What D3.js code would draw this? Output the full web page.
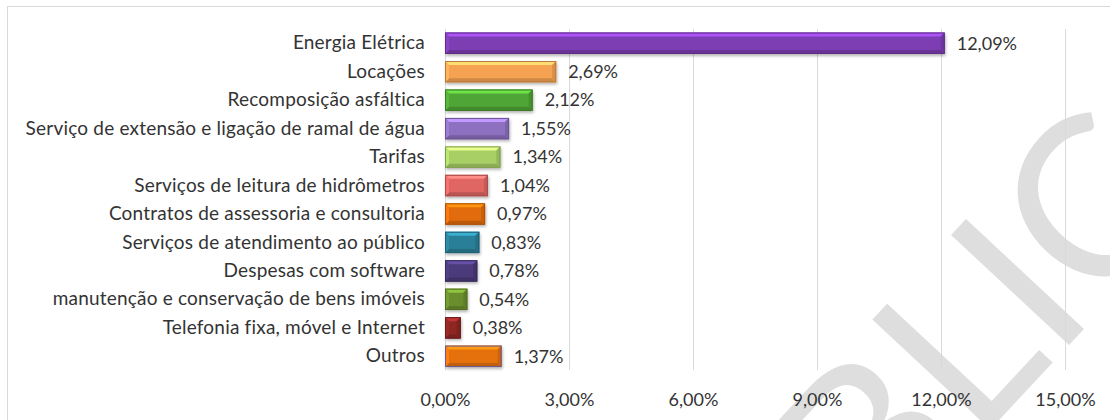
<!DOCTYPE html>
<meta charset="utf-8">
<script src="https://d3js.org/d3.v7.min.js"></script>
<style>
  body { margin: 0; background: #fff; }
  text { font-family: Lato, "Open Sans", sans-serif; fill: #333; }
</style>
<div id="my_dataviz"></div>
<script>

// categories, values (% of total) and bar colours
var categories = [
  "Energia Elétrica",
  "Locações",
  "Recomposição asfáltica",
  "Serviço de extensão e ligação de ramal de água",
  "Tarifas",
  "Serviços de leitura de hidrômetros",
  "Contratos de assessoria e consultoria",
  "Serviços de atendimento ao público",
  "Despesas com software",
  "manutenção e conservação de bens imóveis",
  "Telefonia fixa, móvel e Internet",
  "Outros"
];
var values = [12.09, 2.69, 2.12, 1.55, 1.34, 1.04, 0.97, 0.83, 0.78, 0.54, 0.38, 1.37];
var colors = ["#7d3db3", "#f5a253", "#4fa535", "#8d6fc0", "#a7cf66", "#df6664",
              "#e26c0c", "#2a7f98", "#4b3a7a", "#6a8e2e", "#8e2624", "#e5710f"];
var tickValues = [0, 3, 6, 9, 12, 15];

var width = 1110, height = 420;
var margin = {top: 29, right: 45, bottom: 50, left: 445};

var pct = function(d) { return d3.format(".2f")(d).replace(".", ",") + "%"; };

var svg = d3.select("#my_dataviz")
  .append("svg")
    .attr("width", width)
    .attr("height", height);

var defs = svg.append("defs");
defs.append("filter")
    .attr("id", "shadow")
    .attr("x", "-10%").attr("y", "-30%")
    .attr("width", "130%").attr("height", "180%")
  .append("feDropShadow")
    .attr("dx", 1).attr("dy", 2)
    .attr("stdDeviation", 1.5)
    .attr("flood-color", "#000")
    .attr("flood-opacity", 0.3);

// chart border
svg.append("rect")
    .attr("x", 7.5).attr("y", 6.5)
    .attr("width", width).attr("height", height)
    .attr("fill", "none")
    .attr("stroke", "#d9d9d9");

// watermark, placed so the "I" stands where it does in the original
var wm = svg.append("text")
    .attr("font-size", 225)
    .style("font-family", "Lato, sans-serif")
    .style("fill", "#dedede")
    .text("PÚBLICA");
var iPos = wm.node().getStartPositionOfChar(4);
wm.attr("transform", "translate(1055,360) rotate(-47) translate(" + (-iPos.x) + ",0)");

// scales
var x = d3.scaleLinear()
  .domain([0, 15])
  .range([margin.left, width - margin.right]);

var y = d3.scaleBand()
  .domain(categories)
  .range([margin.top, height - margin.bottom + 0.5])
  .paddingInner(0.25)
  .paddingOuter(0.125);

// gridlines
svg.append("g")
  .selectAll("line")
  .data(tickValues)
  .enter()
  .append("line")
    .attr("x1", function(d) { return x(d) + 0.5; })
    .attr("x2", function(d) { return x(d) + 0.5; })
    .attr("y1", margin.top)
    .attr("y2", height - margin.bottom)
    .attr("stroke", "#d9d9d9");

// x axis labels
svg.append("g")
    .attr("transform", "translate(0," + (height - 17) + ")")
    .call(d3.axisBottom(x).tickValues(tickValues).tickSize(0).tickFormat(pct))
    .call(function(g) { g.select(".domain").remove(); })
    .selectAll("text")
      .attr("dy", null)
      .attr("font-size", 18)
      .style("font-family", "Lato, sans-serif")
      .style("fill", "#333");

// category labels
svg.append("g")
    .attr("transform", "translate(" + (margin.left - 20) + ",0)")
    .call(d3.axisLeft(y).tickSize(0).tickPadding(0))
    .call(function(g) { g.select(".domain").remove(); })
    .selectAll("text")
      .attr("font-size", 19)
      .style("letter-spacing", "0.2px")
      .style("font-family", "Lato, sans-serif")
      .style("fill", "#333");

// bevelled bars
var bw = 4;
var bars = svg.append("g")
  .selectAll("g")
  .data(values)
  .enter()
  .append("g")
    .attr("transform", function(d, i) { return "translate(" + x(0) + "," + y(categories[i]) + ")"; });

bars.each(function(d, i) {
  var g = d3.select(this);
  var w = x(d) - x(0), h = y.bandwidth();
  var c = d3.color(colors[i]);
  var b = Math.min(bw, w / 2);
  g.append("rect")
      .attr("width", w).attr("height", h)
      .attr("fill", c)
      .attr("filter", "url(#shadow)");
  // top facet
  g.append("path")
      .attr("d", "M0,0H" + w + "L" + (w - b) + "," + b + "H" + b + "Z")
      .attr("fill", c.brighter(0.9));
  // bottom facet
  g.append("path")
      .attr("d", "M0," + h + "H" + w + "L" + (w - b) + "," + (h - b) + "H" + b + "Z")
      .attr("fill", c.darker(0.5));
  // left facet
  g.append("path")
      .attr("d", "M0,0L" + b + "," + b + "V" + (h - b) + "L0," + h + "Z")
      .attr("fill", c.brighter(0.3));
  // right facet
  g.append("path")
      .attr("d", "M" + w + ",0L" + (w - b) + "," + b + "V" + (h - b) + "L" + w + "," + h + "Z")
      .attr("fill", c.darker(0.35));
  g.append("rect")
      .attr("x", 0.5).attr("y", 0.5)
      .attr("width", w - 1).attr("height", h - 1)
      .attr("fill", "none")
      .attr("stroke", i == 11 ? "#6b5a95" : c.darker(0.8));
});

// value labels
svg.append("g")
  .selectAll("text")
  .data(values)
  .enter()
  .append("text")
    .attr("x", function(d) { return x(d) + 12; })
    .attr("y", function(d, i) { return y(categories[i]) + y.bandwidth() / 2; })
    .attr("dy", "0.35em")
    .attr("font-size", 18)
    .text(pct);

</script>
